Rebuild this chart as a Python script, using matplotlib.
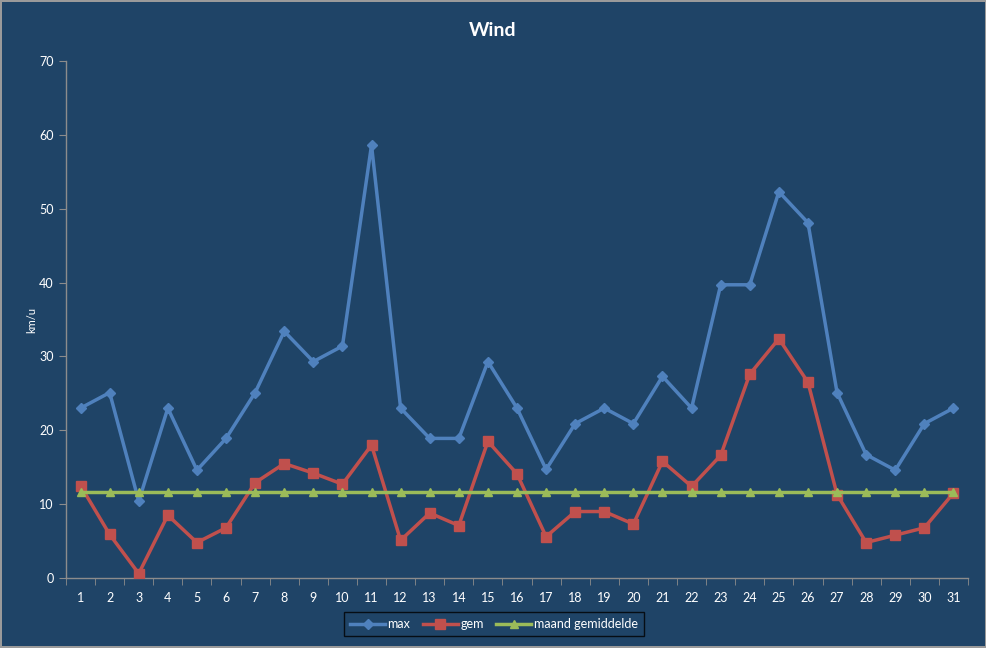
import numpy as np
import matplotlib
matplotlib.use('Agg')
import matplotlib.pyplot as plt
from matplotlib.ticker import MultipleLocator

plt.rcParams['font.family'] = ['Lato', 'DejaVu Sans']

# data
days = list(range(1, 32))
wind_max = [23.0, 25.1, 10.4, 23.0, 14.6, 18.9, 25.1, 33.4, 29.3, 31.4,
            58.6, 23.0, 18.9, 18.9, 29.3, 23.0, 14.7, 20.9, 23.0, 20.9,
            27.3, 23.0, 39.7, 39.7, 52.3, 48.1, 25.1, 16.7, 14.6, 20.9, 23.0]
wind_gem = [12.5, 5.9, 0.6, 8.5, 4.8, 6.8, 12.9, 15.5, 14.2, 12.7,
            18.0, 5.1, 8.8, 7.1, 18.5, 14.1, 5.6, 9.0, 9.0, 7.3,
            15.8, 12.4, 16.6, 27.6, 32.4, 26.5, 11.3, 4.8, 5.8, 6.8, 11.5]
maand_gem = [11.7] * len(days)

bg = '#1F4467'
axis_col = '#8C8C8C'
txt_col = 'white'

fig = plt.figure(figsize=(9.87, 6.48), dpi=100, facecolor=bg,
                 edgecolor='#9A9A9A', linewidth=1.5)
ax = fig.add_axes([66/987, 1-578/648, (968-66)/987, (578-61)/648])
ax.set_facecolor(bg)

ax.plot(days, wind_max, color='#4F81BD', lw=2.5, marker='D', ms=5,
        label='max', zorder=3)
ax.plot(days, wind_gem, color='#C0504D', lw=2.5, marker='s', ms=7,
        label='gem', zorder=4)
ax.plot(days, maand_gem, color='#9BBB59', lw=2.5, marker='^', ms=6,
        label='maand gemiddelde', zorder=5)

ax.set_xlim(0.5, 31.5)
ax.set_ylim(0, 70)
ax.set_xticks(days)
ax.set_xticklabels([str(d) for d in days])
ax.xaxis.set_minor_locator(MultipleLocator(1, offset=0.5))
ax.yaxis.set_major_locator(MultipleLocator(10))
ax.tick_params(axis='x', which='major', length=0, pad=10, colors=txt_col, labelsize=9)
ax.tick_params(axis='x', which='minor', length=5, direction='out', color=axis_col)
ax.tick_params(axis='y', which='major', length=5, direction='out', color=axis_col,
               colors=txt_col, labelsize=9, pad=4)
ax.tick_params(axis='y', which='major', color=axis_col)

for s in ['top', 'right']:
    ax.spines[s].set_visible(False)
for s in ['left', 'bottom']:
    ax.spines[s].set_color(axis_col)
    ax.spines[s].set_linewidth(1)

fig.text(493/987, 1-30/648, 'Wind', ha='center', va='center',
         color=txt_col, fontsize=14, fontweight='bold')
fig.text(32/987, 1-320/648, 'km/u', ha='center', va='center', rotation=90,
         color=txt_col, fontsize=8)

leg = fig.legend(loc='center', bbox_to_anchor=(494/987, 1-624/648), ncol=3,
                 frameon=True, fontsize=9, handlelength=2.8, handletextpad=0.2,
                 columnspacing=1.0, borderpad=0.45, borderaxespad=0)
leg.get_frame().set_facecolor(bg)
leg.get_frame().set_edgecolor('black')
leg.get_frame().set_linewidth(1)
leg.get_frame().set_boxstyle('square', pad=0)
for t in leg.get_texts():
    t.set_color(txt_col)

fig.savefig('out.png', dpi=100, facecolor=bg, edgecolor='#9A9A9A')
